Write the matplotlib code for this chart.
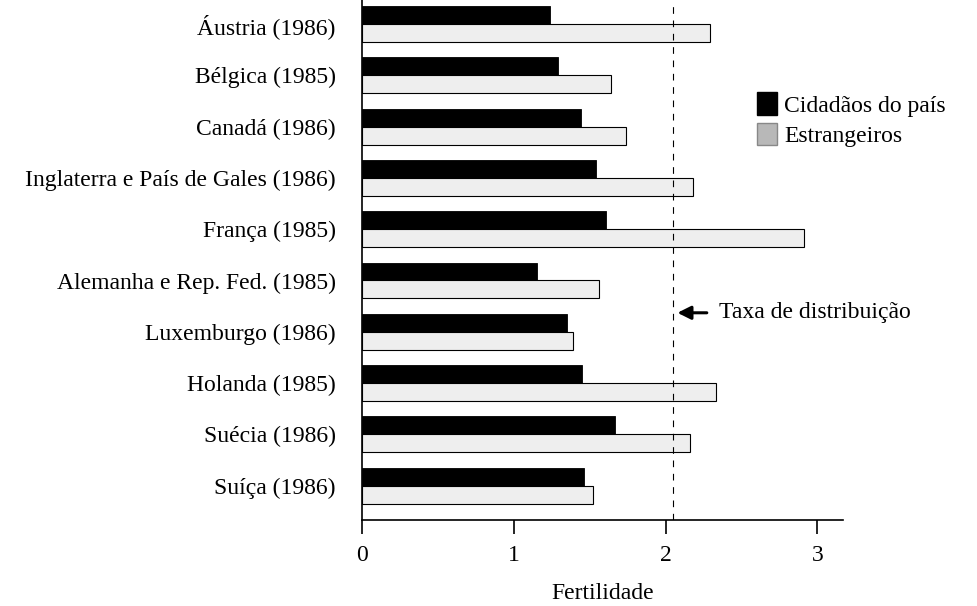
import numpy as np
import matplotlib
matplotlib.use("Agg")
import matplotlib.pyplot as plt
from matplotlib.patches import Patch

# fertility by country, nationals vs foreigners
paises = ["Áustria (1986)", "Bélgica (1985)", "Canadá (1986)",
          "Inglaterra e País de Gales (1986)", "França (1985)",
          "Alemanha e Rep. Fed. (1985)", "Luxemburgo (1986)",
          "Holanda (1985)", "Suécia (1986)", "Suíça (1986)"]
cidadaos = [1.24, 1.29, 1.44, 1.54, 1.61, 1.15, 1.35, 1.45, 1.67, 1.46]
estrangeiros = [2.29, 1.64, 1.74, 2.18, 2.91, 1.56, 1.39, 2.33, 2.16, 1.52]
taxa_reposicao = 2.05
xticks = [0, 1, 2, 3]

plt.rcParams['font.family'] = ['Liberation Serif', 'DejaVu Serif']
fs = 17

fig = plt.figure(figsize=(9.77, 6.06), dpi=100)
ax = fig.add_axes([0.3705, 0.142, 0.4925, 0.858])

y = np.arange(len(paises))
h = 0.35
ax.barh(y - h / 2, cidadaos, height=h, color='black', edgecolor='black', linewidth=0.6)
ax.barh(y + h / 2, estrangeiros, height=h, color='#eeeeee', edgecolor='black', linewidth=0.8)

ax.axvline(taxa_reposicao, color='black', linestyle=(0, (6, 6)), linewidth=0.8)

ax.set_xlim(0, 3.17)
ax.set_ylim(9.67, -0.47)
ax.set_yticks(y)
ax.set_yticklabels(paises, fontsize=fs)
ax.set_xticks(xticks)
ax.set_xticklabels([str(t) for t in xticks], fontsize=fs)
ax.tick_params(axis='y', length=0, pad=19)
ax.tick_params(axis='x', length=10, width=1.2, direction='out', pad=8)
ax.spines['top'].set_visible(False)
ax.spines['right'].set_visible(False)
ax.spines['left'].set_linewidth(1.2)
ax.spines['bottom'].set_linewidth(1.2)
ax.set_xlabel("Fertilidade", fontsize=fs, labelpad=12)

ax.annotate("", xy=(taxa_reposicao + 0.01, 5.63), xytext=(taxa_reposicao + 0.24, 5.63),
            arrowprops=dict(arrowstyle='-|>', color='black', lw=2.2, mutation_scale=20))
ax.text(taxa_reposicao + 0.30, 5.63, "Taxa de distribuição", fontsize=fs,
        va='center', ha='left')

handles = [Patch(facecolor='black', edgecolor='black', label='Cidadãos do país'),
           Patch(facecolor='#b8b8b8', edgecolor='#888888', label='Estrangeiros')]
fig.legend(handles=handles, loc='upper left', bbox_to_anchor=(0.765, 0.863),
           frameon=False, fontsize=fs, handlelength=0.85, handleheight=1.1,
           handletextpad=0.3, labelspacing=0.25, borderaxespad=0)

fig.savefig("out.png", dpi=100)
